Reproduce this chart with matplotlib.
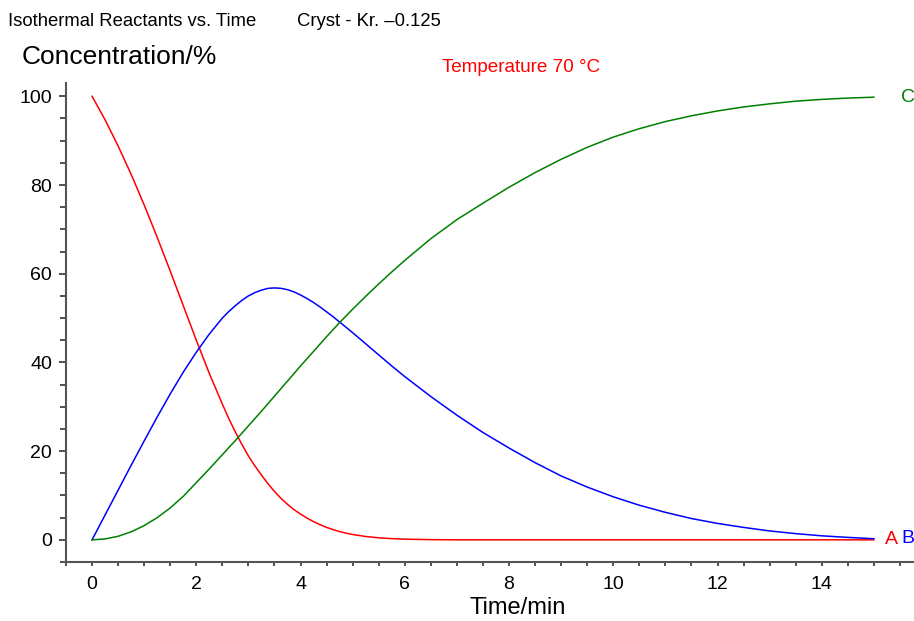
import matplotlib
matplotlib.use("Agg")
import matplotlib.pyplot as plt
from matplotlib.ticker import MultipleLocator

plt.rcParams['font.family'] = ['Liberation Sans', 'DejaVu Sans']

# Time (min)
time = [0, 0.25, 0.5, 0.75, 1.0, 1.25, 1.5, 1.75, 2.0, 2.25, 2.5, 2.625, 2.75, 2.875,
        3.0, 3.125, 3.25, 3.375, 3.5, 3.625, 3.75, 3.875, 4.0, 4.125, 4.25, 4.375,
        4.5, 4.625, 4.75, 4.875, 5.0, 5.25, 5.5, 5.75, 6.0, 6.5, 7.0, 7.5, 8.0, 8.5,
        9.0, 9.5, 10.0, 10.5, 11.0, 11.5, 12.0, 12.5, 13.0, 13.5, 14.0, 14.5, 15.0]

# Concentration (%) of A, B, C
conc_A = [100, 94.7, 88.8, 82.4, 75.5, 68.2, 60.6, 52.8, 45.0, 37.5, 30.6, 27.3,
          24.3, 21.5, 18.9, 16.65, 14.6, 12.65, 10.9, 9.35, 8.0, 6.8, 5.8, 4.9, 4.1,
          3.4, 2.8, 2.3, 1.85, 1.5, 1.2, 0.75, 0.45, 0.27, 0.15, 0.04, 0, 0, 0, 0,
          0, 0, 0, 0, 0, 0, 0, 0, 0, 0, 0, 0, 0]
conc_B = [0, 5.6, 11.2, 16.8, 22.3, 27.7, 32.9, 37.8, 42.3, 46.4, 50.0, 51.5,
          52.8, 54.0, 55.0, 55.75, 56.3, 56.7, 56.8, 56.7, 56.4, 55.9, 55.2, 54.4,
          53.5, 52.5, 51.4, 50.3, 49.1, 47.9, 46.7, 44.2, 41.7, 39.2, 36.8, 32.3,
          28.1, 24.2, 20.7, 17.4, 14.4, 11.9, 9.7, 7.8, 6.2, 4.8, 3.7, 2.8, 2.0,
          1.4, 0.9, 0.55, 0.25]
conc_C = [0, 0.2, 0.8, 1.8, 3.2, 5.0, 7.2, 9.8, 12.9, 16.0, 19.2, 20.8, 22.4,
          24.05, 25.7, 27.35, 29.0, 30.7, 32.4, 34.1, 35.8, 37.5, 39.2, 40.85, 42.5,
          44.15, 45.8, 47.4, 49.0, 50.5, 52.0, 54.9, 57.7, 60.4, 63.0, 67.9, 72.2,
          75.9, 79.5, 82.8, 85.8, 88.5, 90.8, 92.7, 94.3, 95.6, 96.7, 97.6, 98.3,
          98.9, 99.3, 99.6, 99.8]

series = [("A", conc_A, "#ff0000"), ("B", conc_B, "#0000ff"), ("C", conc_C, "#008000")]

fig = plt.figure(figsize=(9.14, 6.21), dpi=100)
ax = fig.add_axes([66/914, 59/621, 848/914, 479/621])

for name, vals, col in series:
    ax.plot(time, vals, color=col, lw=1.1)

ax.set_xlim(-0.5, 15.77)
ax.set_ylim(-5, 103)

for s in ("top", "right"):
    ax.spines[s].set_visible(False)
for s in ("left", "bottom"):
    ax.spines[s].set_color("#555555")
    ax.spines[s].set_linewidth(1.5)

ax.xaxis.set_major_locator(MultipleLocator(2))
ax.xaxis.set_minor_locator(MultipleLocator(0.5))
ax.yaxis.set_major_locator(MultipleLocator(20))
ax.yaxis.set_minor_locator(MultipleLocator(5))
ax.tick_params(axis="x", which="both", direction="out", length=3, width=1.2,
               color="#333333", labelsize=14, pad=7)
ax.tick_params(axis="y", which="major", direction="out", length=5, width=1.2,
               color="#333333", labelsize=14, pad=5)
ax.tick_params(axis="y", which="minor", direction="out", length=4, width=1.2,
               color="#333333")

ax.set_xlabel("Time/min", fontsize=17, va="center")
ax.xaxis.set_label_coords((518 - 66) / 848, -46 / 479)

fig.text(22/914, 1 - 57/621, "Concentration/%", fontsize=19, ha="left", va="center")
fig.text(8/914, 1 - 22/621, "Isothermal Reactants vs. Time", fontsize=13.3,
         ha="left", va="center")
fig.text(297/914, 1 - 22/621, "Cryst - Kr. \u20130.125", fontsize=13.3,
         ha="left", va="center")
fig.text(521/914, 1 - 68/621, "Temperature 70 \u00b0C", fontsize=13.6, color="#ff0000",
         ha="center", va="center")

ax.text(15.52, conc_C[-1], "C", color="#008000", fontsize=14, ha="left", va="center")
ax.text(15.22, conc_A[-1], "A", color="#ff0000", fontsize=14, ha="left", va="center")
ax.text(15.52, conc_B[-1], "B", color="#0000ff", fontsize=14, ha="left", va="center")

fig.savefig("out.png", dpi=100)
